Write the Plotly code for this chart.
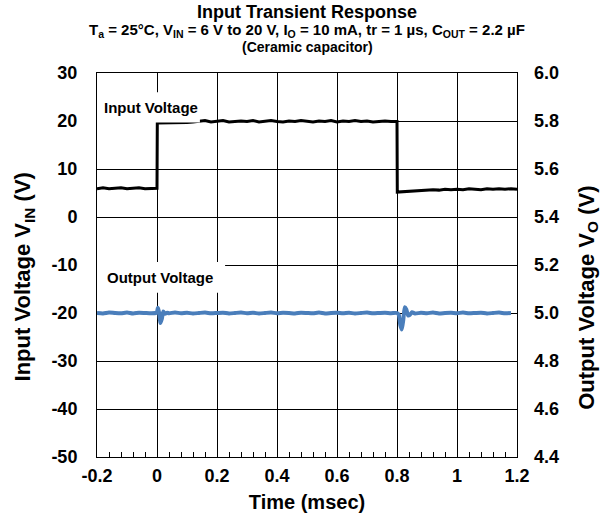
import plotly.graph_objects as go

# ---- Input voltage step (time in msec, volts) ----
t_vin = [-0.20, -0.18, -0.16, -0.14, -0.12, -0.10, -0.08, -0.06, -0.04, -0.02, 0.000,
         0.001, 0.02, 0.04, 0.06, 0.08, 0.10, 0.12, 0.14, 0.16, 0.18, 0.20,
         0.22, 0.24, 0.26, 0.28, 0.30, 0.32, 0.34, 0.36, 0.38, 0.40,
         0.42, 0.44, 0.46, 0.48, 0.50, 0.52, 0.54, 0.56, 0.58, 0.60,
         0.62, 0.64, 0.66, 0.68, 0.70, 0.72, 0.74, 0.76, 0.78, 0.800,
         0.801, 0.82, 0.84, 0.86, 0.88, 0.90, 0.92, 0.94, 0.96, 0.98, 1.00,
         1.02, 1.04, 1.06, 1.08, 1.10, 1.12, 1.14, 1.16, 1.18, 1.20]
vin = [5.9, 6.1, 5.9, 6.0, 6.1, 5.9, 6.0, 6.1, 5.9, 6.0, 6.0,
       19.6, 19.6, 19.7, 19.6, 19.7, 19.7, 19.8, 19.9, 20.1, 19.8, 19.9,
       20.1, 19.8, 19.9, 20.0, 19.9, 20.1, 19.8, 19.9, 20.1, 19.9,
       19.8, 20.0, 19.9, 20.1, 19.9, 19.8, 20.0, 19.9, 20.1, 19.8,
       20.0, 19.9, 20.1, 19.9, 20.0, 19.8, 19.9, 20.0, 19.9, 19.9,
       5.2, 5.3, 5.4, 5.5, 5.6, 5.6, 5.7, 5.6, 5.8, 5.7, 5.8,
       5.7, 5.9, 5.8, 5.7, 5.9, 5.8, 5.9, 5.8, 5.9, 5.8]

# ---- Output voltage response ----
t_vo = [-0.20, -0.18, -0.16, -0.14, -0.12, -0.10, -0.08, -0.06, -0.04, -0.02,
        -0.004, 0.000, 0.003, 0.007, 0.011, 0.016, 0.021, 0.027, 0.034,
        0.04, 0.06, 0.08, 0.10, 0.12, 0.14, 0.16, 0.18, 0.20,
        0.22, 0.24, 0.26, 0.28, 0.30, 0.32, 0.34, 0.36, 0.38, 0.40,
        0.42, 0.44, 0.46, 0.48, 0.50, 0.52, 0.54, 0.56, 0.58, 0.60,
        0.62, 0.64, 0.66, 0.68, 0.70, 0.72, 0.74, 0.76, 0.78,
        0.800, 0.806, 0.811, 0.816, 0.821, 0.826, 0.831, 0.837, 0.843, 0.850,
        0.86, 0.88, 0.90, 0.92, 0.94, 0.96, 0.98, 1.00,
        1.02, 1.04, 1.06, 1.08, 1.10, 1.12, 1.14, 1.16, 1.18, 1.20]
vo = [5.000, 4.998, 5.002, 5.000, 4.999, 5.002, 4.998, 5.001, 5.000, 4.999,
      5.000, 5.004, 5.022, 5.002, 4.958, 4.975, 5.006, 4.997, 5.001,
      4.999, 5.002, 4.999, 5.001, 4.998, 5.000, 5.002, 4.999, 5.000,
      5.001, 4.998, 5.000, 5.002, 4.999, 5.001, 4.998, 5.000, 5.002, 4.999,
      5.001, 5.000, 4.998, 5.001, 5.000, 4.999, 5.002, 4.998, 5.000, 5.001,
      4.999, 5.001, 4.998, 5.000, 5.002, 4.999, 5.000, 5.001, 4.999,
      5.000, 4.992, 4.950, 4.931, 4.972, 5.024, 5.015, 4.990, 4.992, 5.003,
      4.998, 5.001, 4.999, 5.002, 4.998, 5.000, 5.001, 4.999,
      5.002, 4.999, 5.000, 5.001, 4.998, 5.000, 5.002, 4.999, 5.000]

x_ticks = [-0.2, 0, 0.2, 0.4, 0.6, 0.8, 1.0, 1.2]
x_labels = ["-0.2", "0", "0.2", "0.4", "0.6", "0.8", "1", "1.2"]
vin_ticks = [-50, -40, -30, -20, -10, 0, 10, 20, 30]
vin_labels = ["-50", "-40", "-30", "-20", "-10", "0", "10", "20", "30"]
vo_ticks = [4.4, 4.6, 4.8, 5.0, 5.2, 5.4, 5.6, 5.8, 6.0]
vo_labels = ["4.4", "4.6", "4.8", "5.0", "5.2", "5.4", "5.6", "5.8", "6.0"]

FONT = "Liberation Sans, Arial, sans-serif"
tick_font = dict(family=FONT, size=18, color="black", weight="bold")
xtitle_font = dict(family=FONT, size=20, color="black", weight="bold")
ytitle_font = dict(family=FONT, size=22, color="black", weight="bold")

fig = go.Figure()
fig.add_trace(go.Scatter(x=t_vin, y=vin, mode="lines", name="Input Voltage",
                         line=dict(color="black", width=3), yaxis="y"))
fig.add_trace(go.Scatter(x=t_vo, y=vo, mode="lines", name="Output Voltage",
                         line=dict(color="#4A7EBB", width=4, shape="spline", smoothing=0.6),
                         yaxis="y2"))

fig.update_layout(
    width=606, height=524,
    margin=dict(l=97, r=89, t=73, b=67),
    paper_bgcolor="white", plot_bgcolor="white",
    showlegend=False,
    font=dict(family=FONT, color="black"),
    xaxis=dict(
        range=[-0.2, 1.2], tickmode="array", tickvals=x_ticks, ticktext=x_labels,
        showgrid=True, gridcolor="black", gridwidth=1, zeroline=False,
        showline=True, linecolor="black", linewidth=1, mirror=True,
        ticks="inside", ticklen=5, tickcolor="black",
        minor=dict(tick0=-0.2, dtick=0.04, ticks="inside", ticklen=5,
                   tickcolor="black", showgrid=False),
        tickfont=tick_font, ticklabelstandoff=2,
        title=dict(text="Time (msec)", font=xtitle_font, standoff=10),
    ),
    yaxis=dict(
        range=[-50, 30], tickmode="array", tickvals=vin_ticks, ticktext=vin_labels,
        showgrid=True, gridcolor="black", gridwidth=1, zeroline=False,
        showline=True, linecolor="black", linewidth=1, mirror=True,
        ticks="", tickfont=tick_font, ticklabelstandoff=15,
    ),
    yaxis2=dict(
        range=[4.4, 6.0], tickmode="array", tickvals=vo_ticks, ticktext=vo_labels,
        overlaying="y", side="right", showgrid=False, zeroline=False,
        showline=False, ticks="", tickfont=tick_font, ticklabelstandoff=16,
    ),
)

# vertical axis titles
fig.add_annotation(x=-0.174, y=0.47, xref="paper", yref="paper",
                   xanchor="center", yanchor="middle", textangle=-90, showarrow=False,
                   text="Input Voltage V<sub>IN</sub> (V)", font=ytitle_font)
fig.add_annotation(x=1.167, y=0.415, xref="paper", yref="paper",
                   xanchor="center", yanchor="middle", textangle=-90, showarrow=False,
                   text="Output Voltage V<sub>O</sub> (V)", font=ytitle_font)

# white label boxes drawn over the grid
fig.add_shape(type="rect", xref="x", yref="y", x0=-0.207, x1=0.143, y0=19.7, y1=26.0,
              fillcolor="white", line=dict(width=0), layer="above")
fig.add_shape(type="rect", xref="x", yref="y", x0=-0.207, x1=0.227, y0=-15.8, y1=-9.4,
              fillcolor="white", line=dict(width=0), layer="above")

label_font = dict(family=FONT, size=15, color="black", weight="bold")
fig.add_annotation(x=-0.183, y=22.8, xref="x", yref="y", text="Input Voltage",
                   showarrow=False, xanchor="left", yanchor="middle", font=label_font)
fig.add_annotation(x=-0.173, y=-12.7, xref="x", yref="y", text="Output Voltage",
                   showarrow=False, xanchor="left", yanchor="middle", font=label_font)

# titles
fig.add_annotation(x=0.5, y=1, xref="paper", yref="paper", yanchor="middle", yshift=61,
                   text="Input Transient Response", showarrow=False,
                   font=dict(family=FONT, size=18, color="black", weight="bold"))
fig.add_annotation(x=0.5, y=1, xref="paper", yref="paper", yanchor="middle", yshift=43,
                   text="T<sub>a</sub> = 25°C, V<sub>IN</sub> = 6 V to 20 V, I<sub>O</sub> = 10 mA, "
                        "tr = 1 µs, C<sub>OUT</sub> = 2.2 µF",
                   showarrow=False,
                   font=dict(family=FONT, size=15, color="black", weight="bold"))
fig.add_annotation(x=0.5, y=1, xref="paper", yref="paper", yanchor="middle", yshift=26,
                   text="(Ceramic capacitor)", showarrow=False,
                   font=dict(family=FONT, size=14, color="black", weight="bold"))

fig.write_html("out.html")
